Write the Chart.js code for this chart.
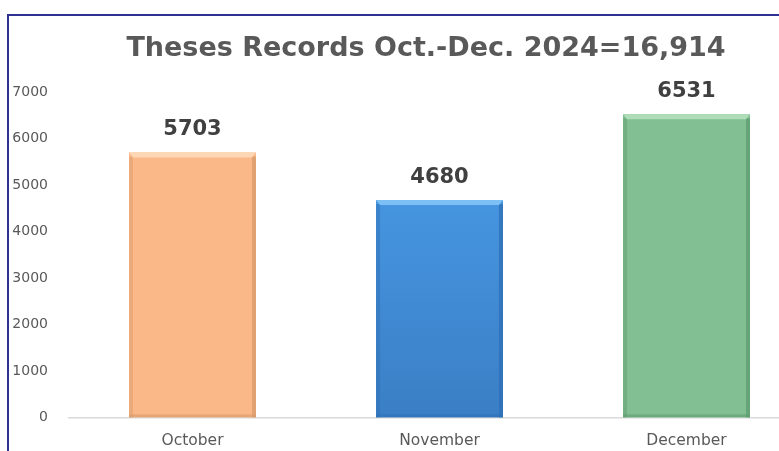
<!DOCTYPE html>
<html>
<head>
<meta charset="utf-8">
<script src="https://cdn.jsdelivr.net/npm/chart.js@4.4.1/dist/chart.umd.min.js"></script>
<style>
  html, body { margin: 0; padding: 0; background: #fff; overflow: hidden; }
  body { width: 779px; height: 451px; position: relative; }
  #wrap { position: absolute; left: 0; top: 0; width: 852px; height: 476px; }
  #mask { position: absolute; left: 0; top: 0; width: 8px; height: 451px; background: #fff; }
  #frame { position: absolute; left: 7px; top: 14px; width: 900px; height: 600px;
           border: 2px solid #2E3192; pointer-events: none; }
</style>
</head>
<body>
<div id="wrap"><canvas id="chart"></canvas></div>
<div id="mask"></div>
<div id="frame"></div>
<script>
// Chart values
const months = ['October', 'November', 'December'];
const records = [5703, 4680, 6531];
const barColors = ['#FAB888', '#438FDC', '#82C093'];
const edgeColors = ['#D99A68', '#2F6FB5', '#5E9C70'];
const topColors = ['#FDD6B3', '#7CC0F5', '#AEDDB8'];
const chartTitle = 'Theses Records Oct.-Dec. 2024=16,914';

const fontFamily = '"DejaVu Sans", sans-serif';

// vertical gradient for each bar
function barFill(context) {
    const chart = context.chart;
    const area = chart.chartArea;
    if (!area) return barColors[context.dataIndex];
    const i = context.dataIndex;
    const g = chart.ctx.createLinearGradient(0, area.top, 0, area.bottom);
    if (i === 1) {
        g.addColorStop(0, '#4CA0EC');
        g.addColorStop(1, '#3A7FC6');
    } else {
        g.addColorStop(0, barColors[i]);
        g.addColorStop(1, barColors[i]);
    }
    return g;
}

// bevel edges and value labels on top of each bar
const bevelPlugin = {
    id: 'bevel',
    afterDatasetsDraw(chart) {
        const ctx = chart.ctx;
        const meta = chart.getDatasetMeta(0);
        meta.data.forEach((bar, i) => {
            const left = bar.x - bar.width / 2;
            const right = bar.x + bar.width / 2;
            const top = bar.y;
            const bottom = bar.base;
            const b = 4;
            ctx.save();
            ctx.fillStyle = edgeColors[i];
            ctx.globalAlpha = 0.45;
            ctx.fillRect(left, top + b, b, bottom - top - b);
            ctx.globalAlpha = 0.75;
            ctx.fillRect(right - b, top + b, b, bottom - top - b);
            ctx.globalAlpha = 0.6;
            ctx.fillRect(left, bottom - 3, right - left, 3);
            ctx.globalAlpha = 1;
            ctx.fillStyle = topColors[i];
            ctx.beginPath();
            ctx.moveTo(left, top);
            ctx.lineTo(right, top);
            ctx.lineTo(right - b, top + b + 1);
            ctx.lineTo(left + b, top + b + 1);
            ctx.closePath();
            ctx.fill();
            ctx.restore();

            ctx.save();
            ctx.fillStyle = '#404040';
            ctx.font = 'bold 21px ' + fontFamily;
            ctx.textAlign = 'center';
            ctx.textBaseline = 'middle';
            ctx.fillText(String(records[i]), bar.x, top - 23);
            ctx.restore();
        });
    }
};

new Chart(document.getElementById('chart'), {
    type: 'bar',
    data: {
        labels: months,
        datasets: [{
            label: 'Records',
            data: records,
            backgroundColor: barFill,
            borderWidth: 0,
            categoryPercentage: 1,
            barPercentage: 0.514
        }]
    },
    options: {
        responsive: true,
        maintainAspectRatio: false,
        animation: false,
        layout: { padding: { left: 0, right: 0, top: 0, bottom: 12 } },
        plugins: {
            legend: { display: false },
            tooltip: { enabled: false },
            title: {
                display: true,
                text: chartTitle,
                color: '#595959',
                font: { family: fontFamily, size: 27, weight: 'bold' },
                padding: { top: 33, bottom: 27 }
            }
        },
        scales: {
            x: {
                grid: { display: false, drawTicks: false },
                border: { display: true, color: '#D9D9D9', width: 1.5 },
                ticks: {
                    color: '#595959',
                    font: { family: fontFamily, size: 15.5 },
                    padding: 14
                }
            },
            y: {
                min: 0,
                max: 7000,
                afterFit(scale) { scale.width = 69; },
                grid: { display: false, drawTicks: false },
                border: { display: false },
                ticks: {
                    stepSize: 1000,
                    color: '#595959',
                    font: { family: fontFamily, size: 14 },
                    padding: 21,
                    callback: (v) => String(v)
                }
            },
            // empty right-hand space so the title centres over the full chart
            yRight: {
                position: 'right',
                afterFit(scale) { scale.width = 42; },
                grid: { display: false, drawTicks: false },
                border: { display: false },
                ticks: { display: false }
            }
        }
    },
    plugins: [bevelPlugin]
});
</script>
</body>
</html>
